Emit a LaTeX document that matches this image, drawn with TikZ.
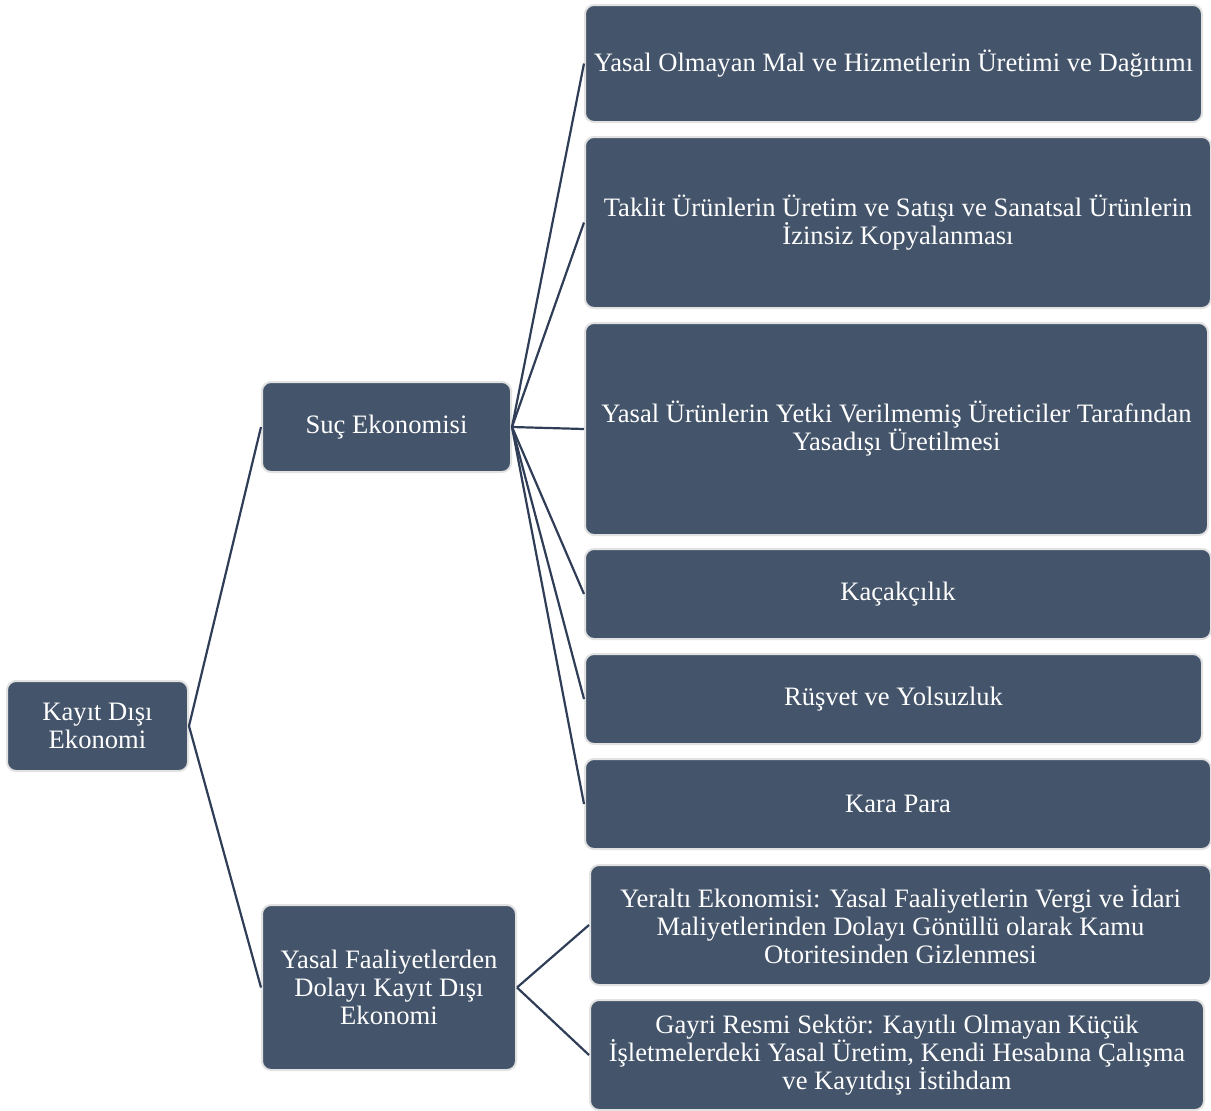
\documentclass[tikz,border=0pt]{standalone}
\usepackage{fontspec}
\setmainfont{Liberation Serif}
\definecolor{boxfill}{HTML}{44546A}
\definecolor{boxedge}{HTML}{E2E2E2}
\definecolor{linkcol}{HTML}{2F3D57}
\begin{document}
\begin{tikzpicture}[x=1pt,y=-1pt,
  box/.style={draw=boxedge,line width=2pt,fill=boxfill,rounded corners=9pt,
    text=white,align=center,font=\fontsize{26.6}{28}\selectfont,inner sep=0pt},
  link/.style={draw=linkcol,line width=2.2pt}]
\useasboundingbox (0,0) rectangle (1211,1111);
\newcommand{\bx}[6]{\node[box,minimum width={#4-#2},minimum height={#5-#3}] (#1) at ({(#2+#4)/2},{(#3+#5)/2}) {#6};}
\bx{root}{7}{681}{188}{771}{Kayıt Dışı\\Ekonomi}
\bx{suc}{262}{382}{511}{472}{Suç Ekonomisi}
\bx{yasal}{262}{905}{516}{1070}{Yasal Faaliyetlerden\\Dolayı Kayıt Dışı\\Ekonomi}
\bx{b1}{585}{5}{1202}{122}{Yasal Olmayan Mal ve Hizmetlerin Üretimi ve Dağıtımı}
\bx{b2}{585}{137}{1211}{308}{Taklit Ürünlerin Üretim ve Satışı ve Sanatsal Ürünlerin\\İzinsiz Kopyalanması}
\bx{b3}{585}{323}{1208}{535}{Yasal Ürünlerin Yetki Verilmemiş Üreticiler Tarafından\\Yasadışı Üretilmesi}
\bx{b4}{585}{549}{1211}{639}{Kaçakçılık}
\bx{b5}{585}{654}{1202}{744}{Rüşvet ve Yolsuzluk}
\bx{b6}{585}{759}{1211}{849}{Kara Para}
\bx{b7}{590}{865}{1211}{985}{Yeraltı Ekonomisi: Yasal Faaliyetlerin Vergi ve İdari\\Maliyetlerinden Dolayı Gönüllü olarak Kamu\\Otoritesinden Gizlenmesi}
\bx{b8}{590}{1000}{1204}{1110}{Gayri Resmi Sektör: Kayıtlı Olmayan Küçük\\İşletmelerdeki Yasal Üretim, Kendi Hesabına Çalışma\\ve Kayıtdışı İstihdam}
\foreach \t in {suc,yasal} \draw[link] (root.east) -- (\t.west);
\foreach \t in {b1,b2,b3,b4,b5,b6} \draw[link] (suc.east) -- (\t.west);
\foreach \t in {b7,b8} \draw[link] (yasal.east) -- (\t.west);
\end{tikzpicture}
\end{document}
